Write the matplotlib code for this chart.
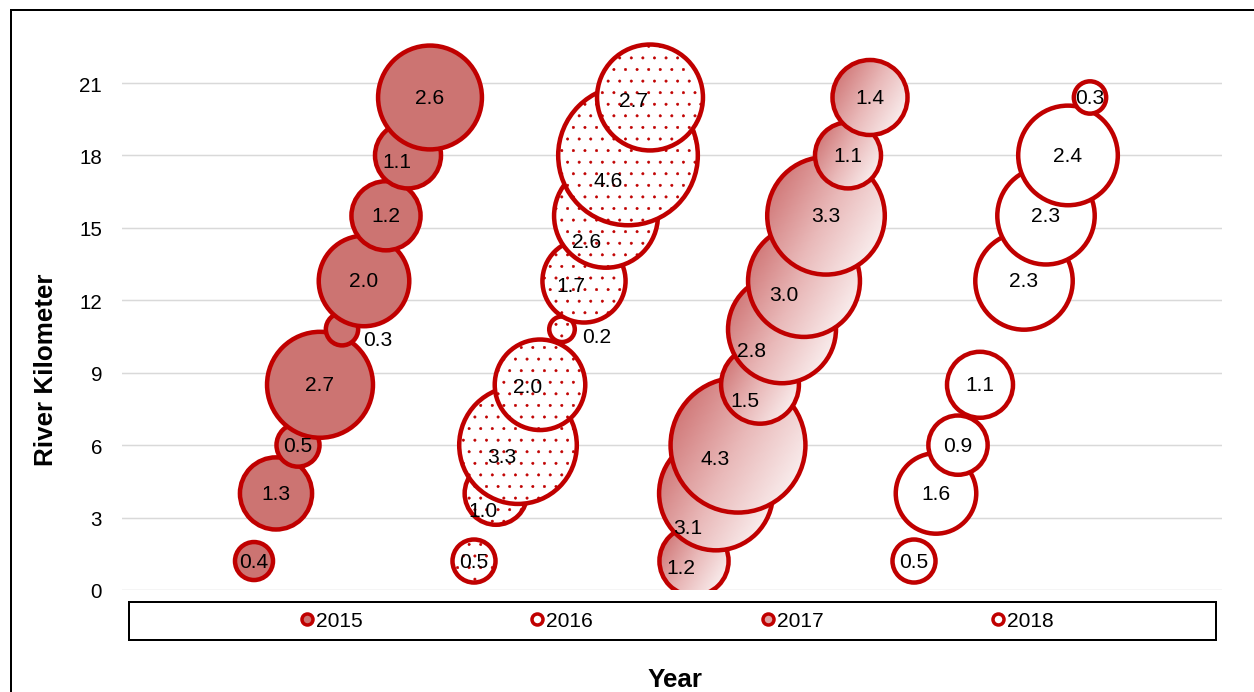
import numpy as np
import matplotlib
matplotlib.use("Agg")
import matplotlib.pyplot as plt
from matplotlib.patches import Circle, Rectangle
from matplotlib.transforms import ScaledTranslation
from matplotlib.colors import LinearSegmentedColormap
from matplotlib.image import AxesImage
from matplotlib.lines import Line2D

# --- data ---
years = ["2015", "2016", "2017", "2018"]

x_2015 = [0, 1, 2, 3, 4, 5, 6, 7, 8]
x_2016 = [10, 11, 12, 13, 14, 15, 16, 17, 18]
x_2017 = [20, 21, 22, 23, 24, 25, 26, 27, 28]
x_2018 = [30, 31, 32, 33, 35, 36, 37, 38]

km_2015 = [1.2, 4.0, 6.0, 8.5, 10.8, 12.8, 15.5, 18.0, 20.4]
km_2016 = [1.2, 4.0, 6.0, 8.5, 10.8, 12.8, 15.5, 18.0, 20.4]
km_2017 = [1.2, 4.0, 6.0, 8.5, 10.8, 12.8, 15.5, 18.0, 20.4]
km_2018 = [1.2, 4.0, 6.0, 8.5, 12.8, 15.5, 18.0, 20.4]

size_2015 = [0.4, 1.3, 0.5, 2.7, 0.3, 2.0, 1.2, 1.1, 2.6]
size_2016 = [0.5, 1.0, 3.3, 2.0, 0.2, 1.7, 2.6, 4.6, 2.7]
size_2017 = [1.2, 3.1, 4.3, 1.5, 2.8, 3.0, 3.3, 1.1, 1.4]
size_2018 = [0.5, 1.6, 0.9, 1.1, 2.3, 2.3, 2.4, 0.3]

yticks = [0, 3, 6, 9, 12, 15, 18, 21]

# --- style ---
W, H = 1254, 693
DPI = W / 9.0
P = 72.0 / DPI          # points per pixel
RED = "#C00000"
FILL_2015 = "#CC7472"
GRID = "#D9D9D9"
EDGE = 4.5              # bubble outline, px

plt.rcParams["font.family"] = ["Liberation Sans", "DejaVu Sans"]
plt.rcParams["hatch.linewidth"] = 0.3
plt.rcParams["hatch.color"] = RED

# label offsets in pixels (dx right, dy down) where the label is not centred
label_shift = {
    (0, 4): (36, 10), (0, 7): (-11, 6),
    (1, 1): (-13, 17), (1, 2): (-16, 11), (1, 3): (-12, 2), (1, 4): (35, 7),
    (1, 5): (-13, 5), (1, 6): (-19, 26), (1, 7): (-20, 25), (1, 8): (-16, 3),
    (2, 0): (-13, 6), (2, 1): (-28, 34), (2, 2): (-23, 13), (2, 3): (-15, 16),
    (2, 4): (-30, 21), (2, 5): (-20, 14),
}

fig = plt.figure(figsize=(W / DPI, H / DPI), dpi=DPI)
px_per_km = (591 - 84) / 21.0
ymax = 23.9
ax = fig.add_axes([122 / W, 1 - 591 / H, 1100 / W, ymax * px_per_km / H])
ax.set_xlim(-6, 44)
ax.set_ylim(0, ymax)

ax.set_yticks(yticks)
ax.set_xticks([])
ax.tick_params(axis="y", length=0, pad=20 * P, labelsize=20.5 * P)
ax.yaxis.grid(True, color=GRID, lw=1.5 * P)
ax.set_axisbelow(True)
for s in ax.spines.values():
    s.set_visible(False)

grad_cmap = LinearSegmentedColormap.from_list("g", ["#C96464", "#E9B9B9", "#FFFFFF"])
ang = np.deg2rad(30)
uu, vv = np.meshgrid(np.linspace(-1, 1, 80), np.linspace(-1, 1, 80))
grad = uu * np.cos(ang) + vv * np.sin(ang)
grad = (grad - grad.min()) / (grad.max() - grad.min())

series = [(x_2015, km_2015, size_2015), (x_2016, km_2016, size_2016),
          (x_2017, km_2017, size_2017), (x_2018, km_2018, size_2018)]

z = 3.0
for k, (xs, ys, vs) in enumerate(series):
    for i, (x, y, v) in enumerate(zip(xs, ys, vs)):
        r = (33.6 * np.sqrt(v) - EDGE / 2) / DPI
        tr = fig.dpi_scale_trans + ScaledTranslation(x, y, ax.transData)
        if k == 0:
            c = Circle((0, 0), r, transform=tr, fc=FILL_2015, ec=RED, lw=EDGE * P, zorder=z)
        elif k == 1:
            c = Circle((0, 0), r, transform=tr, fc="white", ec=RED, lw=EDGE * P,
                       hatch="..", zorder=z)
        elif k == 2:
            c = Circle((0, 0), r, transform=tr, fc="none", ec=RED, lw=EDGE * P, zorder=z + 0.5)
            im = AxesImage(ax, cmap=grad_cmap, interpolation="bilinear",
                           origin="upper", extent=(-r, r, -r, r))
            im.set_data(grad)
            im.set_clim(0, 1)
            im.set_transform(tr)
            im.set_zorder(z)
            ax.add_image(im)
        else:
            c = Circle((0, 0), r, transform=tr, fc="white", ec=RED, lw=EDGE * P, zorder=z)
        ax.add_patch(c)
        if k == 2:
            im.set_clip_path(c)
            im.set_clip_box(ax.bbox)
        dx, dy = label_shift.get((k, i), (0, 0))
        ax.annotate(f"{v:.1f}", (x, y), xytext=(dx * P, -dy * P), textcoords="offset points",
                    ha="center", va="center", fontsize=21 * P, zorder=100)
        z += 1

# axis titles
fig.text(46 / W, 1 - 370 / H, "River Kilometer", rotation=90, ha="center", va="center",
         fontsize=26 * P, fontweight="bold")
fig.text(675 / W, 1 - 687 / H, "Year", ha="center", va="baseline",
         fontsize=26 * P, fontweight="bold")

# legend
leg_fc = [FILL_2015, "white", "#DFA3A3", "white"]
handles = [Line2D([], [], ls="none", marker="o", markersize=11 * P, markerfacecolor=fc,
                  markeredgecolor=RED, markeredgewidth=3.5 * P) for fc in leg_fc]
fs = 21
fig.legend(handles, years, ncol=4, loc="center", bbox_to_anchor=(677 / W, 1 - 622 / H),
           frameon=False, fontsize=fs * P, handlelength=13 / fs, handletextpad=2.5 / fs,
           columnspacing=(231 - 13 - 2.5 - 47.5) / fs, borderpad=0, borderaxespad=0)
fig.add_artist(Rectangle((129 / W, 1 - 641 / H), (1216 - 129) / W, 38 / H,
                         transform=fig.transFigure, fill=False, ec="black", lw=2 * P))

# outer frame (runs off the right and bottom edges)
fig.add_artist(Rectangle((11 / W, -0.2), 1.5, 1.2 - 11 / H, transform=fig.transFigure,
                         fill=False, ec="black", lw=2 * P))

fig.savefig("out.png", dpi=DPI)
